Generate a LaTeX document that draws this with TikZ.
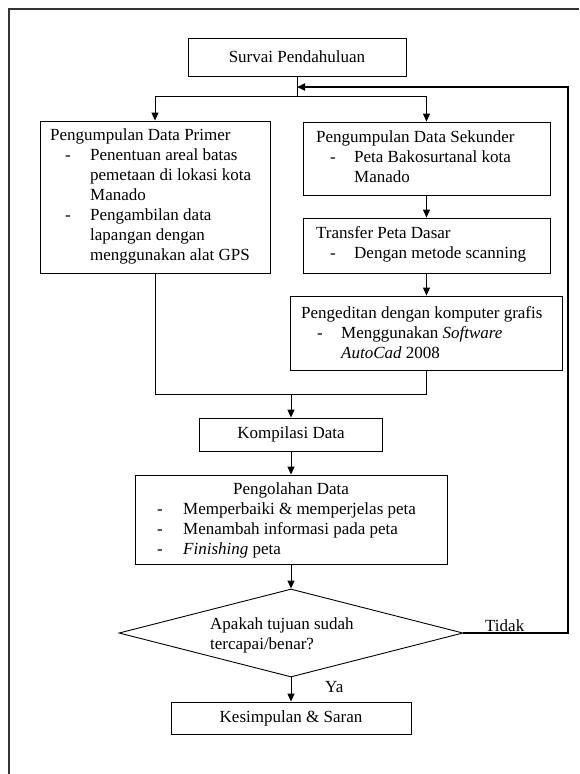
\documentclass[tikz,border=0pt]{standalone}
\usepackage{fontspec}
\setmainfont{Liberation Serif}
\usetikzlibrary{arrows.meta,shapes.geometric}
\newcommand\fs{\fontsize{17}{20}\selectfont}
\newcommand\dashitem[2]{\makebox[#2][l]{\hspace*{#1}-}}
\begin{document}
\begin{tikzpicture}[x=1pt,y=-1pt,
  boxnode/.style={draw=black, line width=0.9pt, rectangle, inner sep=0pt, font=\fs},
  txt/.style={inner sep=0pt, anchor=base west, font=\fs},
  conn/.style={line width=0.9pt},
  arr/.style={conn, -{Triangle[length=8pt,width=7pt]}},
  fb/.style={line width=1.8pt},
  fbarr/.style={fb, -{Triangle[length=8pt,width=7pt]}},
  frame/.style={draw=black!80, line width=1.2pt}
]
\useasboundingbox (0,0) rectangle (579,774);
% outer frame (only top and left edges visible)
\draw[frame] (9,774) -- (9,9) -- (579,9);

% boxes
\node[boxnode, minimum width=218pt, minimum height=38pt] (survai) at (297,57) {Survai Pendahuluan};
\node[boxnode, minimum width=230pt, minimum height=152pt] (primer) at (155,197) {};
\node[boxnode, minimum width=247pt, minimum height=73pt] (sekunder) at (426.5,158.5) {};
\node[boxnode, minimum width=247pt, minimum height=55pt] (transfer) at (426.5,245.5) {};
\node[boxnode, minimum width=272pt, minimum height=74pt] (edit) at (426.5,333) {};
\node[boxnode, minimum width=183pt, minimum height=33pt] (kompilasi) at (291,434.5) {Kompilasi Data};
\node[boxnode, minimum width=312pt, minimum height=89pt] (olah) at (291,519.5) {};
\node[draw=black, line width=0.9pt, shape=diamond, minimum width=344pt, minimum height=88pt, inner sep=0pt] (cek) at (291,633) {};
\node[boxnode, minimum width=240pt, minimum height=32pt] (simpul) at (291,718) {Kesimpulan \& Saran};

% box texts
\node[txt] (tprimer) at (50,140) {\parbox[t]{225pt}{\raggedright Pengumpulan Data Primer\\
  \dashitem{15pt}{40pt}Penentuan areal batas\\
  \hspace*{40pt}pemetaan di lokasi kota\\
  \hspace*{40pt}Manado\\
  \dashitem{15pt}{40pt}Pengambilan data\\
  \hspace*{40pt}lapangan dengan\\
  \hspace*{40pt}menggunakan alat GPS}};
\node[txt] (tsekunder) at (316,142) {\parbox[t]{235pt}{\raggedright Pengumpulan Data Sekunder\\
  \dashitem{14pt}{38pt}Peta Bakosurtanal kota\\
  \hspace*{38pt}Manado}};
\node[txt] (ttransfer) at (316,238) {\parbox[t]{235pt}{\raggedright Transfer Peta Dasar\\
  \dashitem{14pt}{38pt}Dengan metode scanning}};
\node[txt] (tedit) at (301,318) {\parbox[t]{260pt}{\raggedright Pengeditan dengan komputer grafis\\
  \dashitem{16pt}{40pt}Menggunakan \textit{Software}\\
  \hspace*{40pt}\textit{AutoCad} 2008}};
\node[txt] (tolah) at (157,494) {\parbox[t]{290pt}{\raggedright\hspace*{76pt}Pengolahan Data\\
  \dashitem{0pt}{26pt}Memperbaiki \& memperjelas peta\\
  \dashitem{0pt}{26pt}Menambah informasi pada peta\\
  \dashitem{0pt}{26pt}\textit{Finishing} peta}};
\node[txt] (tcek) at (210,629) {\parbox[t]{200pt}{\raggedright Apakah tujuan sudah\\ tercapai/benar?}};

% labels
\node[txt] (tidak) at (485,631) {Tidak};
\node[txt] (ya) at (325,692) {Ya};

% connector points
\coordinate (br) at (297,96);
\coordinate (mg) at (291,394);
\coordinate (fbt) at (568,87);
\coordinate (fbin) at (297,87);

% connectors
\draw[conn] (survai.south) -- (br);
\draw[arr] (br) -| (primer.north);
\draw[arr] (br) -| (sekunder.north);
\draw[arr] (sekunder.south) -- (transfer.north);
\draw[arr] (transfer.south) -- (edit.north);
\draw[conn] (primer.south) |- (mg);
\draw[conn] (edit.south) |- (mg);
\draw[arr] (mg) -- (kompilasi.north);
\draw[arr] (kompilasi.south) -- (olah.north);
\draw[arr] (olah.south) -- (cek.north);
\draw[arr] (cek.south) -- (simpul.north);
\draw[fbarr] (cek.east) -| (fbt) -- (fbin);
\end{tikzpicture}
\end{document}
